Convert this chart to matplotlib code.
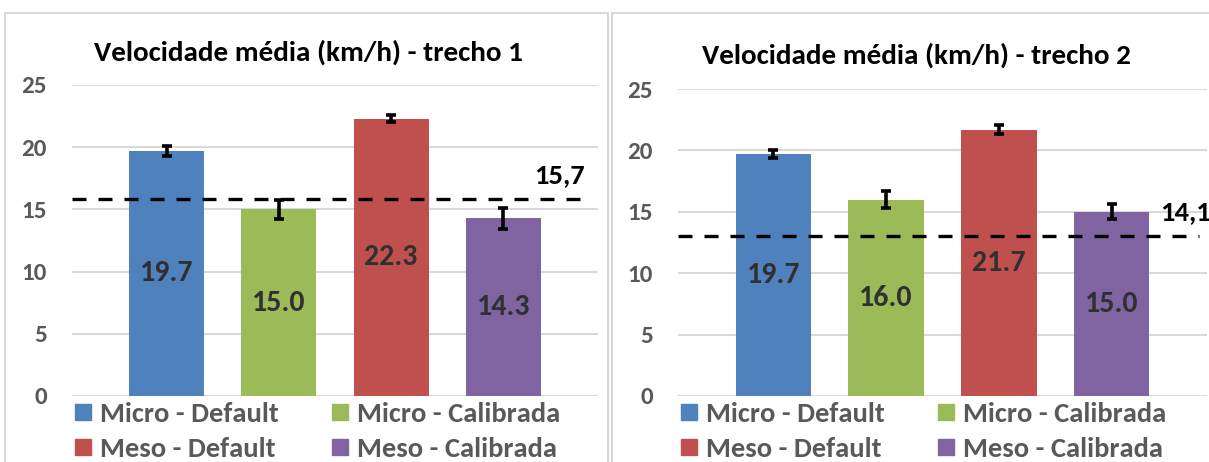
import matplotlib
matplotlib.use("Agg")
import matplotlib.pyplot as plt
from matplotlib.patches import Rectangle
from matplotlib.lines import Line2D
import matplotlib.transforms as mtrans

plt.rcParams['font.family'] = ['Carlito', 'DejaVu Sans']

series = ["Micro - Default", "Micro - Calibrada", "Meso - Default", "Meso - Calibrada"]
colors = ["#4F81BD", "#9BBB59", "#C0504D", "#8064A2"]
titles = ["Velocidade média (km/h) - trecho 1", "Velocidade média (km/h) - trecho 2"]
values_t1 = [19.7, 15.0, 22.3, 14.3]
values_t2 = [19.7, 16.0, 21.7, 15.0]
errors_t1 = [0.4, 0.75, 0.25, 0.85]
errors_t2 = [0.35, 0.7, 0.35, 0.6]
ref_line = [15.8, 13.0]
ref_label = ["15,7", "14,1"]
yticks = [0, 5, 10, 15, 20, 25]

W, H = 1209, 462
fig = plt.figure(figsize=(W / 100, H / 100), dpi=100)

# panel frames
fig.patches.append(Rectangle((5 / W, -0.1), (608 - 5) / W, 1.1 - 13 / H,
                             transform=fig.transFigure, fill=False,
                             edgecolor="#d9d9d9", lw=1.5))
fig.patches.append(Rectangle((612 / W, -0.1), 0.6, 1.1 - 13 / H,
                             transform=fig.transFigure, fill=False,
                             edgecolor="#d9d9d9", lw=1.5))

axes_px = [(72, 598, 396, 85), (678, 1207, 396, 89)]
data = [(values_t1, errors_t1), (values_t2, errors_t2)]
title_pos = [(308, 52), (916, 55)]
label_side = [("right", 0.975), ("left", 0.911)]
order = [0, 2, 1, 3]  # row-wise legend fill

for i, ((x0, x1, yb, yt), (vals, errs)) in enumerate(zip(axes_px, data)):
    ax = fig.add_axes([x0 / W, (H - yb) / H, (x1 - x0) / W, (yb - yt) / H])
    xs = list(range(len(series)))
    ax.bar(xs, vals, width=0.67, color=colors, zorder=2)
    ax.errorbar(xs, vals, yerr=errs, fmt="none", ecolor="black",
                elinewidth=2.6, capsize=3.8, capthick=2.6, zorder=3)
    for x, v in zip(xs, vals):
        ax.text(x, v / 2, f"{v:.1f}", ha="center", va="center",
                fontsize=21.5, fontweight="bold", color="#303030", zorder=4)
    ax.set_xlim(-0.845, 3.845)
    ax.set_ylim(0, 25)
    ax.set_yticks(yticks)
    ax.set_xticks([])
    ax.grid(axis="y", color="#d9d9d9", lw=1.5, zorder=0)
    for s in ["top", "right", "left", "bottom"]:
        ax.spines[s].set_visible(False)
    ax.tick_params(axis="y", length=0, pad=18, labelsize=18, labelcolor="#595959")
    for lab in ax.get_yticklabels():
        lab.set_fontweight("bold")
    ax.axhline(ref_line[i], xmin=0, xmax=0.985, color="black", lw=2.4,
               dashes=(4.2, 3.6), zorder=3, clip_on=False)
    tr = mtrans.blended_transform_factory(ax.transAxes, ax.transData)
    ha, xa = label_side[i]
    ax.text(xa, ref_line[i] + 1.95, ref_label[i], transform=tr, ha=ha,
            va="center", fontsize=20.5, fontweight="bold", color="black",
            clip_on=False)
    fig.text(title_pos[i][0] / W, (H - title_pos[i][1]) / H, titles[i],
             ha="center", va="center", fontsize=21, fontweight="bold",
             color="black")
    handles = [Line2D([], [], marker="s", linestyle="none", markersize=12,
                      markerfacecolor=colors[k], markeredgecolor=colors[k])
               for k in order]
    labels = [series[k] for k in order]
    leg = ax.legend(handles, labels, ncol=2, loc="upper left",
                    bbox_to_anchor=(0.002, -0.019), frameon=False,
                    fontsize=20.5, handlelength=0.7, handletextpad=0.24,
                    columnspacing=1.82, labelspacing=0.4, borderaxespad=0,
                    borderpad=0)
    for t in leg.get_texts():
        t.set_fontweight("bold")
        t.set_color("#595959")

fig.savefig("out.png", dpi=100)
